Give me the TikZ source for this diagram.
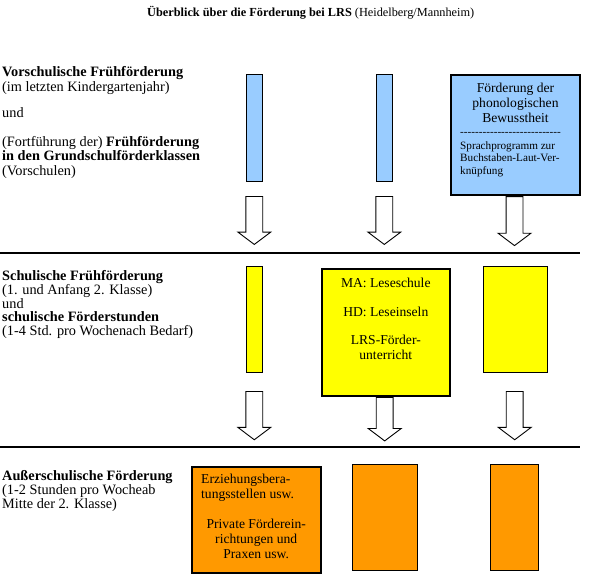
\documentclass[tikz,border=0pt]{standalone}
\usepackage{fontspec}
\setmainfont{Liberation Serif}
\usetikzlibrary{shapes.arrows}
\definecolor{pre}{HTML}{99CCFF}
\definecolor{school}{HTML}{FFFF00}
\definecolor{extra}{HTML}{FF9900}

\tikzset{
  bar/.style={draw, line width=1pt, inner sep=0pt},
  thickbox/.style={draw, line width=2.3pt, inner sep=0pt},
  downarrow/.style={draw, line width=0.9pt, single arrow, shape border rotate=270,
    single arrow head extend=8pt, single arrow tip angle=106,
    minimum width=32pt, inner sep=8pt, anchor=tail},
  sepline/.style={line width=1.3pt},
  lefttxt/.style={anchor=west, align=left, inner sep=0pt, font=\fontsize{14.3}{14.5}\selectfont},
  boxtxt/.style={align=center, inner sep=0pt, font=\fontsize{13.6}{15}\selectfont},
  smalltxt/.style={anchor=west, align=left, inner sep=0pt, font=\fontsize{11.2}{12.5}\selectfont},
}

\begin{document}
\begin{tikzpicture}[x=1pt, y=-1pt]
  \useasboundingbox (0,0) rectangle (596,582);

  % Heading.
  \node[anchor=west, inner sep=0pt, font=\fontsize{12.3}{14}\selectfont] (title) at (147,12.5)
    {\textbf{Überblick über die Förderung bei LRS} (Heidelberg/Mannheim)};

  % Row 1: pre-school support.
  \node[lefttxt] (vor) at (2,80.5) {\textbf{Vorschulische Frühförderung}\\(im letzten Kindergartenjahr)};
  \node[lefttxt] (und1) at (2,113) {und};
  \node[lefttxt] (grund) at (2,157) {(Fortführung der) \textbf{Frühförderung}\\
    \textbf{in den Grundschulförderklassen}\\(Vorschulen)};

  \node[bar, fill=pre, minimum width=16pt, minimum height=107pt] (bbar1) at (254.3,127.8) {};
  \node[bar, fill=pre, minimum width=16pt, minimum height=107pt] (bbar2) at (384.3,127.8) {};
  \node[thickbox, fill=pre, minimum width=129pt, minimum height=120pt] (phon) at (515.5,135) {};
  \node[boxtxt] (phontxt) at (515.5,102.5) {Förderung der\\phonologischen\\Bewusstheit};
  \node[smalltxt] (phondash) at (460,133.5) {\foreach \i in {1,...,27}{\mbox{-}}};
  \node[smalltxt] (sprach) at (460,159) {Sprachprogramm zur\\Buchstaben-Laut-Ver-\\knüpfung};

  \coordinate (a1) at (254.3,196);
  \coordinate (a2) at (384.3,196);
  \node[downarrow, minimum height=48pt] (arr11) at (a1) {};
  \node[downarrow, minimum height=48pt] (arr12) at (a2) {};
  \node[downarrow, minimum height=49pt] (arr13) at (phon.south -| 514.5,0) {};

  \coordinate (l1a) at (0,253);
  \coordinate (l1b) at (580,253);
  \draw[sepline] (l1a) -- (l1b);

  % Row 2: school support.
  \node[lefttxt, font=\fontsize{14.3}{13.6}\selectfont] (schul) at (2,304.5) {\textbf{Schulische Frühförderung}\\
    (1. und Anfang 2. Klasse)\\und\\\textbf{schulische Förderstunden}\\(1-4 Std. pro Wochenach Bedarf)};

  \node[bar, fill=school, minimum width=16pt, minimum height=106pt] (ybar1) at (254.3,319.3) {};
  \node[thickbox, fill=school, minimum width=128pt, minimum height=127pt] (lese) at (385.8,332.2) {};
  \node[boxtxt, font=\fontsize{13.6}{14.7}\selectfont] (lesetxt) at (385.8,318.5)
    {MA: Leseschule\\[14.7pt]HD: Leseinseln\\[13pt]LRS-Förder-\\unterricht};
  \node[bar, fill=school, minimum width=64pt, minimum height=106pt] (ybar3) at (515.3,319.3) {};

  \coordinate (b1) at (254.3,391);
  \coordinate (b3) at (514.7,391);
  \node[downarrow, minimum height=48.3pt] (arr21) at (b1) {};
  \node[downarrow, minimum height=43.6pt] (arr22) at (lese.south -| 384.7,0) {};
  \node[downarrow, minimum height=48.3pt] (arr23) at (b3) {};

  \coordinate (l2a) at (0,447);
  \coordinate (l2b) at (580,447);
  \draw[sepline] (l2a) -- (l2b);

  % Row 3: support outside school.
  \node[lefttxt, font=\fontsize{14.3}{14}\selectfont] (ausser) at (2,491) {\textbf{Außerschulische Förderung}\\
    (1-2 Stunden pro Wocheab\\Mitte der 2. Klasse)};

  \node[thickbox, fill=extra, minimum width=129pt, minimum height=106.6pt] (erz) at (256.2,520) {};
  \node[boxtxt, anchor=west, align=left] (erztxt) at (201,487.5) {Erziehungsbera-\\tungsstellen usw.};
  \node[boxtxt] (privtxt) at (256.2,539) {Private Förderein-\\richtungen und\\Praxen usw.};
  \node[bar, fill=extra, minimum width=65.4pt, minimum height=106pt] (obar2) at (385,517.3) {};
  \node[bar, fill=extra, minimum width=48.4pt, minimum height=106pt] (obar3) at (514.5,517.3) {};
\end{tikzpicture}
\end{document}
